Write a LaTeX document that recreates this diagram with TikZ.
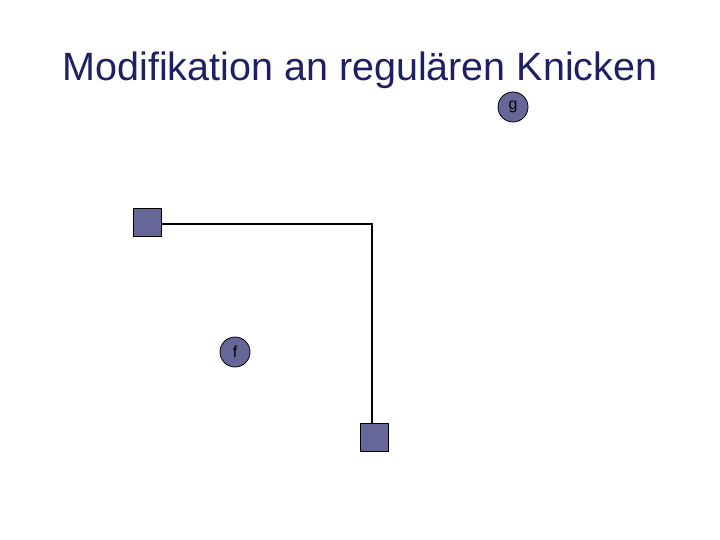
\documentclass[tikz,border=0pt]{standalone}
\usepackage{fontspec}
\setmainfont{Liberation Sans}
\definecolor{titleblue}{HTML}{1F1F66}
\definecolor{nodefill}{HTML}{666699}
\begin{document}
\begin{tikzpicture}[x=1pt,y=-1pt,
  sq/.style={draw=black,fill=nodefill,line width=0.8pt,minimum size=28pt,inner sep=0pt},
  circ/.style={circle,draw=black,fill=nodefill,line width=0.8pt,minimum size=30pt,inner sep=0pt,font=\fontsize{16}{18}\selectfont},
  edge/.style={line width=2.8pt,black}]
\useasboundingbox (0,0) rectangle (720,540);
\node[text=titleblue,font=\fontsize{39.5}{44}\selectfont,anchor=base] (title) at (360,81) {Modifikation an regulären Knicken};
\node[sq] (a) at (147,222) {};
\node[sq] (b) at (374,437) {};
\coordinate (k) at (372,224);
\draw[edge] (a.east |- k) -- (k) -- (k |- b.north);
\node[circ] (g) at (513,107) {g};
\node[circ] (f) at (235,352) {f};
\end{tikzpicture}
\end{document}
